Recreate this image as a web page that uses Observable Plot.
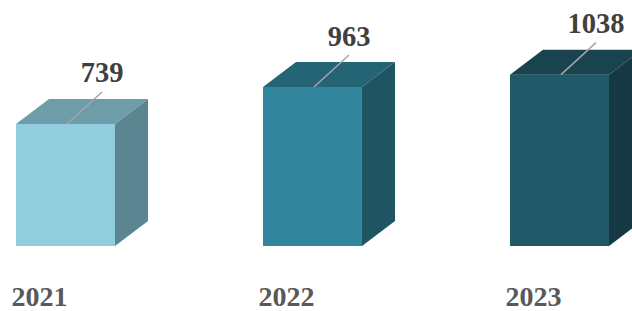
<!DOCTYPE html>
<html><head><meta charset="utf-8">
<script src="https://cdn.jsdelivr.net/npm/d3@7"></script>
<script src="https://cdn.jsdelivr.net/npm/@observablehq/plot@0.6"></script>
<style>html,body{margin:0;padding:0;background:#fff;overflow:hidden}</style>
</head><body><div id="chart"></div>
<script>
const years = ["2021", "2022", "2023"];
const values = [739, 963, 1038];
const frontColors = ["#92CDDD", "#31859C", "#215968"];
const topColors = ["#6C9DA9", "#256475", "#19434E"];
const sideColors = ["#5B8591", "#1F5462", "#153842"];

const data = years.map((year, i) => ({year, value: values[i], i}));

const DEPTH_X = 33, DEPTH_Y = 25;

function depthFaces(index, scales) {
  const {x, y} = scales;
  const bw = x.bandwidth();
  const y0 = y(0);
  const g = d3.create("svg:g");
  data.forEach(d => {
    const L = x(d.year), R = L + bw, T = y(d.value);
    g.append("path")
      .attr("d", `M${L},${T}L${R},${T}L${R + DEPTH_X},${T - DEPTH_Y}L${L + DEPTH_X},${T - DEPTH_Y}Z`)
      .attr("fill", topColors[d.i]);
    g.append("path")
      .attr("d", `M${R},${T}L${R + DEPTH_X},${T - DEPTH_Y}L${R + DEPTH_X},${y0 - DEPTH_Y}L${R},${y0}Z`)
      .attr("fill", sideColors[d.i]);
    const cx = L + bw / 2 + 1.5;
    g.append("line")
      .attr("x1", cx).attr("y1", T)
      .attr("x2", cx + 35).attr("y2", T - 32)
      .attr("stroke", "#A6A6A6").attr("stroke-width", 1.5);
  });
  return g.node();
}

const chart = Plot.plot({
  width: 632,
  height: 311,
  marginLeft: 0,
  marginRight: 8,
  marginTop: 0,
  marginBottom: 65,
  x: {domain: years, paddingInner: 0.6, paddingOuter: 0.0606, axis: null},
  y: {domain: [0, 1490], axis: null},
  color: {type: "identity"},
  style: {background: "#fff"},
  marks: [
    Plot.barY(data, {x: "year", y: "value", fill: d => frontColors[d.i]}),
    depthFaces,
    Plot.text(data, {
      x: "year", y: "value", text: d => String(d.value),
      dx: 36, dy: -42, lineAnchor: "bottom",
      fontSize: 28.5, fontWeight: "bold", fontFamily: "Liberation Serif", fill: "#404040"
    }),
    Plot.text(data, {
      x: "year", text: "year", frameAnchor: "bottom",
      dx: -54.5, dy: 59.5, textAnchor: "start", lineAnchor: "bottom",
      fontSize: 28, fontWeight: "bold", fontFamily: "Liberation Serif", fill: "#595959"
    })
  ]
});
document.getElementById("chart").appendChild(chart);
</script>
</body></html>
